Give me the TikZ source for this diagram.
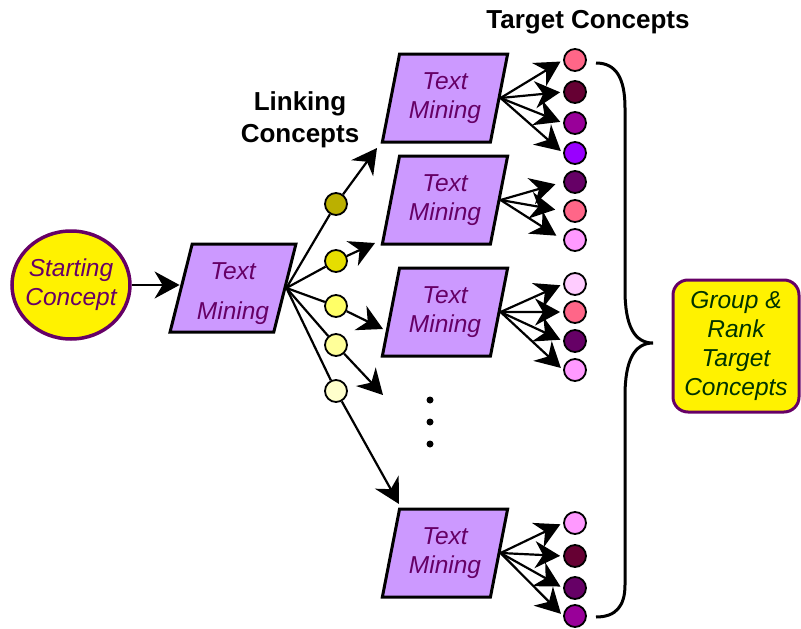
\documentclass[tikz,border=0pt]{standalone}
\usepackage{fontspec}
\setmainfont{Liberation Sans}
\usetikzlibrary{shapes.geometric,arrows.meta}

\definecolor{plumtext}{RGB}{102,0,102}
\definecolor{greentext}{RGB}{0,51,0}
\definecolor{lavender}{RGB}{204,153,255}
\definecolor{linkA}{RGB}{187,176,0}
\definecolor{linkB}{RGB}{230,222,0}
\definecolor{linkC}{RGB}{255,255,102}
\definecolor{linkD}{RGB}{255,255,153}
\definecolor{linkE}{RGB}{255,255,204}
\definecolor{tpink}{RGB}{255,102,136}
\definecolor{tmaroon}{RGB}{102,0,51}
\definecolor{tpurple}{RGB}{153,0,153}
\definecolor{tviolet}{RGB}{153,0,255}
\definecolor{tplum}{RGB}{102,0,102}
\definecolor{tlight}{RGB}{255,153,255}
\definecolor{tpale}{RGB}{255,204,255}

\tikzset{
  tmbox/.style={trapezium, trapezium left angle=75, trapezium right angle=105,
    trapezium stretches=true, minimum width=126, minimum height=88, inner sep=0,
    draw, line width=3, fill=lavender, text=plumtext, align=center,
    font=\fontsize{24.5}{29}\selectfont\itshape},
  conc/.style={circle, draw, line width=1.8, minimum size=22, inner sep=0},
  link/.style={line width=2.2},
  arr/.style={line width=2.2, -{Stealth[length=25pt,width=27pt,inset=8pt]}},
  heading/.style={align=center, font=\fontsize{26}{32}\selectfont\bfseries},
}

\begin{document}
\begin{tikzpicture}[x=1pt,y=1pt,yscale=-1,xscale=1]
  \useasboundingbox (0,0) rectangle (801,629);

  % start and first mining step
  \node[ellipse, draw=plumtext, line width=3.5, fill=yellow, text=plumtext,
    minimum width=118, minimum height=108, inner xsep=-9pt, inner ysep=0, align=center,
    font=\fontsize{24.5}{29}\selectfont\itshape] (start) at (71,285) {Starting\\Concept};
  \node[tmbox, font=\fontsize{24.5}{40}\selectfont\itshape] (tm0) at (233,288) {\rule{0pt}{28pt}Text\\Mining};
  \draw[arr] (start.east) -- (start.east -| tm0.west);

  % linking concepts
  \node[conc, fill=linkA] (lc1) at (336,204) {};
  \node[conc, fill=linkB] (lc2) at (336,261) {};
  \node[conc, fill=linkC] (lc3) at (336,306) {};
  \node[conc, fill=linkD] (lc4) at (336,345) {};
  \node[conc, fill=linkE] (lc5) at (336,391) {};
  \coordinate (e1) at (377,148);
  \coordinate (e2) at (375,243);
  \coordinate (e3) at (383,329);
  \coordinate (e4) at (383,395);
  \coordinate (e5) at (399,504);
  \foreach \i in {1,...,5}{
    \draw[link] (tm0.east) -- (lc\i);
    \draw[arr] (lc\i) -- (e\i);
  }

  % second mining steps
  \node[tmbox] (tmA) at (445,98) {Text\\Mining};
  \node[tmbox] (tmB) at (445,200) {Text\\Mining};
  \node[tmbox] (tmC) at (445,312) {Text\\Mining};
  \node[tmbox] (tmD) at (445,553) {Text\\Mining};

  % target concepts
  \node[conc, fill=tpink] (tA1) at (575,60) {};
  \node[conc, fill=tmaroon] (tA2) at (575,92) {};
  \node[conc, fill=tpurple] (tA3) at (575,123) {};
  \node[conc, fill=tviolet] (tA4) at (575,153) {};
  \node[conc, fill=tplum] (tB1) at (575,182) {};
  \node[conc, fill=tpink] (tB2) at (575,211) {};
  \node[conc, fill=tlight] (tB3) at (575,240) {};
  \node[conc, fill=tpale] (tC1) at (575,284) {};
  \node[conc, fill=tpink] (tC2) at (575,312) {};
  \node[conc, fill=tplum] (tC3) at (575,341) {};
  \node[conc, fill=tlight] (tC4) at (575,370) {};
  \node[conc, fill=tlight] (tD1) at (575,523) {};
  \node[conc, fill=tmaroon] (tD2) at (575,556) {};
  \node[conc, fill=tplum] (tD3) at (575,588) {};
  \node[conc, fill=tpurple] (tD4) at (575,616) {};

  \foreach \t in {A1,A2,A3,A4}{\draw[arr, shorten >=3] (tmA.east) -- (t\t.west);}
  \foreach \t in {B1,B2,B3}{\draw[arr, shorten >=8] (tmB.east) -- (t\t.west);}
  \foreach \t in {C1,C2,C3,C4}{\draw[arr, shorten >=3] (tmC.east) -- (t\t.west);}
  \foreach \t in {D1,D2,D3,D4}{\draw[arr, shorten >=3] (tmD.east) -- (t\t.west);}

  % dots between the steps
  \fill (430,400) circle (3.5);
  \fill (430,422) circle (3.5);
  \fill (430,444) circle (3.5);

  % brace and result
  \draw[line width=3] (596,63) .. controls (616,63) and (625,78) .. (625,108) -- (625,290)
    .. controls (625,325) and (634,343) .. (653,343)
    .. controls (634,343) and (625,361) .. (625,396) -- (625,585)
    .. controls (625,606) and (616,617) .. (596,617);
  \node[draw=plumtext, line width=3, fill=yellow, rounded corners=15, text=greentext,
    minimum width=126, minimum height=132, inner sep=0, align=center,
    font=\fontsize{24.5}{29}\selectfont\itshape] (rank) at (736,346) {Group \&\\Rank\\Target\\Concepts};

  % headings
  \node[heading] (tclabel) at (588,22) {Target Concepts};
  \node[heading] (lclabel) at (300,120) {Linking\\Concepts};
\end{tikzpicture}
\end{document}
